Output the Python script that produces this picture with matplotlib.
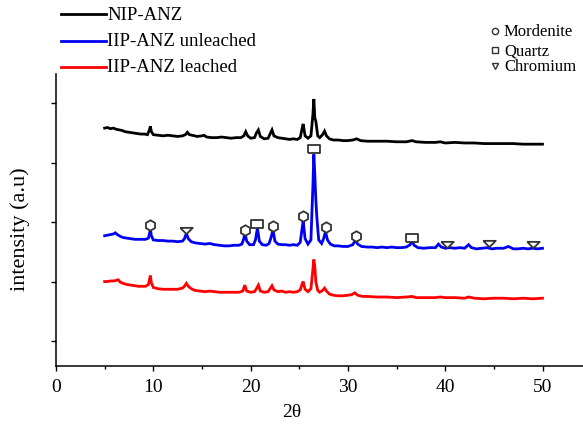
"""XRD patterns of NIP-ANZ / IIP-ANZ (unleached, leached) with phase markers."""
import numpy as np
import matplotlib
matplotlib.use("Agg")
import matplotlib.pyplot as plt
from matplotlib.lines import Line2D
from matplotlib.ticker import MultipleLocator

plt.rcParams['font.family'] = ['Liberation Serif', 'DejaVu Serif']

# ------------------------------------------------------------
# data (2theta, offset intensity in a.u.)
# ------------------------------------------------------------
nip_x = [5.0, 5.3, 5.6, 5.9, 6.2, 6.5, 6.8, 7.1, 7.5, 7.9, 8.3, 8.7, 9.1, 9.4,
         9.6, 9.7, 9.8, 10.0, 10.5, 11.0, 11.5, 12.0, 12.5, 13.0, 13.3, 13.5,
         13.7, 14.0, 14.5, 15.0, 15.2, 15.5, 16.0, 16.5, 17.0, 17.5, 18.0,
         18.5, 19.0, 19.3, 19.5, 19.7, 20.0, 20.4, 20.6, 20.8, 21.0, 21.4,
         21.8, 22.0, 22.2, 22.4, 22.8, 23.2, 23.6, 24.0, 24.4, 24.8, 25.1,
         25.3, 25.4, 25.6, 25.9, 26.2, 26.4, 26.5, 26.6, 26.7, 26.9, 27.1,
         27.4, 27.6, 27.8, 28.1, 28.5, 29.0, 29.5, 30.0, 30.5, 30.9, 31.3,
         32.0, 33.0, 34.0, 35.0, 36.0, 36.6, 37.0, 38.0, 39.0, 39.5, 40.0,
         41.0, 42.0, 43.0, 44.0, 45.0, 46.0, 47.0, 48.0, 49.0, 50.0]
nip_y = [3.58, 3.59, 3.57, 3.58, 3.56, 3.55, 3.54, 3.52, 3.51, 3.50, 3.49, 3.48,
         3.48, 3.47, 3.55, 3.61, 3.52, 3.47, 3.46, 3.45, 3.46, 3.45, 3.44, 3.45,
         3.47, 3.51, 3.47, 3.46, 3.44, 3.45, 3.46, 3.43, 3.42, 3.42, 3.43, 3.42,
         3.41, 3.42, 3.42, 3.45, 3.52, 3.45, 3.41, 3.42, 3.50, 3.55, 3.44, 3.40,
         3.41, 3.48, 3.55, 3.45, 3.42, 3.41, 3.40, 3.39, 3.40, 3.39, 3.42, 3.58,
         3.65, 3.45, 3.41, 3.45, 3.80, 4.07, 3.75, 3.70, 3.45, 3.42, 3.47, 3.53,
         3.45, 3.40, 3.38, 3.38, 3.37, 3.37, 3.38, 3.40, 3.37, 3.36, 3.36, 3.36,
         3.35, 3.35, 3.37, 3.35, 3.34, 3.34, 3.35, 3.33, 3.34, 3.33, 3.33, 3.32,
         3.32, 3.32, 3.32, 3.31, 3.31, 3.31]

unl_x = [5.0, 5.3, 5.6, 5.9, 6.1, 6.3, 6.6, 6.9, 7.3, 7.7, 8.1, 8.5, 8.9, 9.2,
         9.5, 9.6, 9.7, 9.8, 10.0, 10.5, 11.0, 11.5, 12.0, 12.5, 13.0, 13.2,
         13.4, 13.6, 13.9, 14.3, 14.8, 15.3, 15.8, 16.3, 16.8, 17.3, 17.8,
         18.3, 18.8, 19.1, 19.3, 19.4, 19.6, 19.9, 20.3, 20.5, 20.7, 20.9,
         21.2, 21.6, 21.9, 22.1, 22.3, 22.5, 22.8, 23.2, 23.6, 24.0, 24.4,
         24.8, 25.1, 25.3, 25.4, 25.6, 25.9, 26.2, 26.4, 26.5, 26.6, 26.7,
         26.8, 27.0, 27.3, 27.5, 27.7, 27.9, 28.2, 28.6, 29.0, 29.5, 30.0,
         30.5, 30.8, 31.0, 31.4, 32.0, 32.5, 33.0, 33.5, 34.0, 34.5, 35.0,
         35.5, 36.0, 36.4, 36.6, 36.8, 37.2, 37.8, 38.4, 39.0, 39.3, 39.6,
         40.0, 40.5, 41.0, 41.5, 42.0, 42.4, 42.7, 43.2, 43.8, 44.3, 44.8,
         45.3, 46.0, 46.5, 47.0, 47.5, 48.0, 48.5, 49.0, 49.5, 50.0]
unl_y = [1.77, 1.78, 1.79, 1.80, 1.82, 1.79, 1.76, 1.74, 1.73, 1.72, 1.71, 1.71,
         1.71, 1.71, 1.73, 1.80, 1.88, 1.77, 1.70, 1.69, 1.69, 1.68, 1.68, 1.67,
         1.68, 1.72, 1.81, 1.72, 1.67, 1.65, 1.64, 1.63, 1.64, 1.62, 1.61, 1.60,
         1.60, 1.61, 1.61, 1.63, 1.72, 1.83, 1.68, 1.62, 1.62, 1.70, 1.90, 1.68,
         1.62, 1.61, 1.64, 1.74, 1.87, 1.68, 1.63, 1.62, 1.62, 1.61, 1.62, 1.61,
         1.66, 1.90, 2.02, 1.72, 1.63, 1.70, 2.60, 3.14, 2.80, 2.39, 2.10, 1.70,
         1.64, 1.72, 1.84, 1.70, 1.63, 1.60, 1.60, 1.59, 1.59, 1.62, 1.70, 1.63,
         1.59, 1.58, 1.58, 1.57, 1.58, 1.57, 1.58, 1.57, 1.57, 1.58, 1.62, 1.69,
         1.61, 1.57, 1.56, 1.57, 1.57, 1.63, 1.58, 1.56, 1.57, 1.56, 1.57, 1.56,
         1.62, 1.57, 1.55, 1.56, 1.57, 1.55, 1.56, 1.56, 1.59, 1.55, 1.55, 1.56,
         1.55, 1.56, 1.55, 1.56]

lea_x = [5.0, 5.3, 5.6, 5.9, 6.2, 6.4, 6.6, 6.9, 7.3, 7.7, 8.1, 8.5, 8.9, 9.2,
         9.5, 9.6, 9.7, 9.8, 10.0, 10.5, 11.0, 11.5, 12.0, 12.5, 13.0, 13.2,
         13.4, 13.6, 13.9, 14.3, 14.8, 15.3, 15.8, 16.3, 16.8, 17.3, 17.8,
         18.3, 18.8, 19.2, 19.4, 19.6, 20.0, 20.4, 20.6, 20.8, 21.0, 21.4,
         21.8, 22.0, 22.2, 22.4, 22.8, 23.2, 23.6, 24.0, 24.4, 24.8, 25.1,
         25.3, 25.4, 25.6, 25.9, 26.2, 26.4, 26.5, 26.6, 26.7, 26.9, 27.1,
         27.4, 27.6, 27.8, 28.1, 28.5, 29.0, 29.5, 30.0, 30.4, 30.7, 31.0,
         31.5, 32.0, 33.0, 34.0, 35.0, 36.0, 36.6, 37.0, 38.0, 39.0, 39.5,
         40.0, 41.0, 42.0, 42.4, 43.0, 44.0, 45.0, 46.0, 47.0, 48.0, 49.0, 50.0]
lea_y = [1.00, 1.00, 1.01, 1.01, 1.02, 1.03, 0.99, 0.97, 0.95, 0.94, 0.93, 0.92,
         0.92, 0.92, 0.95, 1.03, 1.10, 0.98, 0.90, 0.88, 0.87, 0.87, 0.87, 0.87,
         0.89, 0.92, 0.97, 0.92, 0.88, 0.85, 0.84, 0.83, 0.84, 0.83, 0.82, 0.82,
         0.82, 0.82, 0.82, 0.84, 0.94, 0.84, 0.82, 0.83, 0.88, 0.94, 0.84, 0.82,
         0.83, 0.88, 0.93, 0.86, 0.83, 0.84, 0.82, 0.83, 0.82, 0.83, 0.86, 0.96,
         1.00, 0.87, 0.83, 0.88, 1.20, 1.37, 1.25, 1.00, 0.85, 0.82, 0.85, 0.89,
         0.84, 0.79, 0.77, 0.76, 0.76, 0.77, 0.78, 0.81, 0.77, 0.75, 0.75, 0.74,
         0.74, 0.73, 0.74, 0.75, 0.73, 0.73, 0.73, 0.74, 0.73, 0.73, 0.72, 0.74,
         0.72, 0.71, 0.72, 0.72, 0.71, 0.72, 0.71, 0.72]

# phase markers placed above the unleached pattern
mord_x = [9.7, 19.4, 22.3, 25.4, 27.7, 30.8]
mord_y = [1.95, 1.87, 1.94, 2.10, 1.91, 1.76]
quartz_x = [20.7, 26.5, 36.6]
quartz_y = [1.96, 3.23, 1.73]
chrom_x = [13.4, 40.2, 44.5, 49.0]
chrom_y = [1.87, 1.63, 1.64, 1.63]

series = [("NIP-ANZ", nip_x, nip_y, "#000000"),
          ("IIP-ANZ unleached", unl_x, unl_y, "#0000f0"),
          ("IIP-ANZ leached", lea_x, lea_y, "#ff0000")]

W, H = 583, 435
fig = plt.figure(figsize=(W / 100, H / 100), dpi=100)
ax = fig.add_axes([56 / W, 68 / H, (W - 56) / W, (367 - 75) / H])

for name, x, y, c in series:
    ax.plot(x, y, color=c, lw=2.0, solid_joinstyle='miter')

rect = [(-1.5, -1), (1.5, -1), (1.5, 1), (-1.5, 1), (-1.5, -1)]
tri = [(-1.3, 0.55), (1.3, 0.55), (0, -0.75), (-1.3, 0.55)]
mk = dict(ls='none', mfc='white', mec='#333333', mew=1.3, zorder=5)
ax.plot(mord_x, mord_y, marker='h', ms=7.5, **mk)
ax.plot(quartz_x, quartz_y, marker=rect, ms=9, **mk)
ax.plot(chrom_x, chrom_y, marker=tri, ms=9, **mk)

ax.set_xlim(0, (W - 56) / 9.73)
ax.set_ylim(-0.42, 4.49)
for s in ('top', 'right'):
    ax.spines[s].set_visible(False)
for s in ('left', 'bottom'):
    ax.spines[s].set_linewidth(1.1)
ax.xaxis.set_major_locator(MultipleLocator(10))
ax.xaxis.set_minor_locator(MultipleLocator(5))
ax.set_xticks([0, 10, 20, 30, 40, 50])
ax.set_yticks([0, 1, 2, 3, 4])
ax.set_yticklabels([])
ax.tick_params(axis='both', which='major', direction='out', length=3.5,
               width=1.0, labelsize=14, pad=5)
ax.tick_params(axis='x', which='minor', direction='out', length=2, width=1.0)

ax.set_xlabel("2θ", fontsize=14)
ax.xaxis.set_label_coords((292 - 56) / (W - 56), (367 - 404) / 292)
ax.set_ylabel("intensity (a.u)", fontsize=16, va='center')
ax.yaxis.set_label_coords((20 - 56) / (W - 56), (367 - 229) / 292)

# legend of series (upper left, outside the axes)
for i, (name, x, y, c) in enumerate(series):
    yy = 1 - (15 + 26.5 * i) / H
    fig.add_artist(Line2D([61 / W, 106 / W], [yy, yy], color=c, lw=2.0))
    fig.text(107 / W, yy, name, fontsize=13.5, va='center', ha='left')

# legend of phase markers (upper right)
phases = [("Mordenite", 'o'), ("Quartz", 's'), ("Chromium", 'v')]
for (name, m), py in zip(phases, [32, 51, 67]):
    yy = 1 - py / H
    fig.add_artist(Line2D([495 / W], [yy], marker=m, ms=4.5, mfc='white',
                          mec='#333333', mew=1.0, ls='none'))
    fig.text(504 / W, yy, name, fontsize=12, va='center', ha='left')

fig.savefig("out.png", dpi=100)
